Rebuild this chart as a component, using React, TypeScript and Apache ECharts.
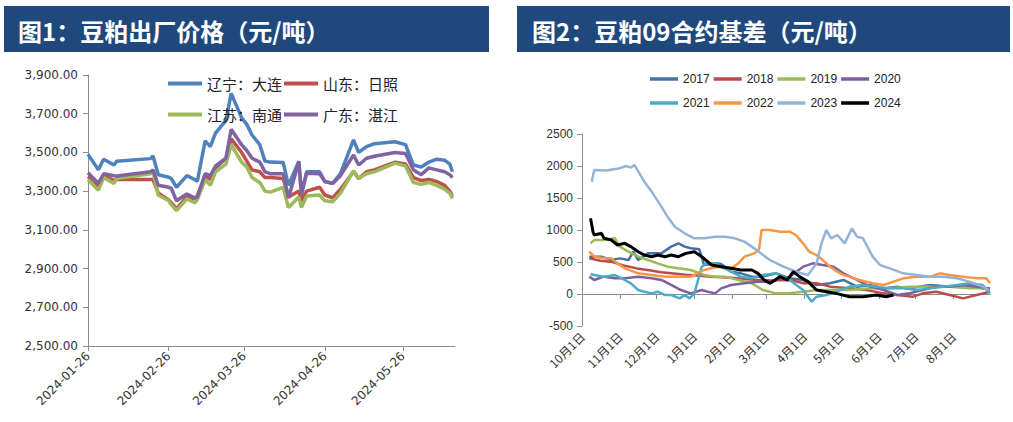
import React, { useEffect, useRef } from 'react';
import * as echarts from 'echarts';

// ---------- Figure 1: 豆粕出厂价格 ----------
const leftDates = [
  '2024-01-26','2024-01-30','2024-02-01','2024-02-05','2024-02-06','2024-02-19','2024-02-20','2024-02-22',
  '2024-02-26','2024-02-27','2024-02-29','2024-03-04','2024-03-07','2024-03-08','2024-03-11','2024-03-13',
  '2024-03-15','2024-03-19','2024-03-21','2024-03-25','2024-03-27','2024-03-29','2024-04-01','2024-04-03',
  '2024-04-05','2024-04-10','2024-04-12','2024-04-16','2024-04-17','2024-04-19','2024-04-24','2024-04-26',
  '2024-04-29','2024-05-02','2024-05-07','2024-05-09','2024-05-12','2024-05-15','2024-05-23','2024-05-27',
  '2024-05-30','2024-06-02','2024-06-05','2024-06-08','2024-06-11','2024-06-13','2024-06-14'
];
const dalian = [3490,3410,3465,3435,3455,3468,3482,3385,3372,3365,3320,3380,3360,3350,3560,3530,3600,3665,3805,3680,3645,3590,3540,3455,3450,3448,3330,3455,3275,3400,3400,3350,3340,3390,3565,3500,3530,3545,3555,3540,3435,3425,3450,3465,3460,3440,3400];
const rizhao = [3375,3325,3380,3355,3360,3360,3360,3290,3255,3240,3210,3270,3260,3275,3380,3360,3420,3470,3570,3500,3455,3410,3400,3370,3370,3365,3270,3300,3250,3300,3320,3280,3265,3310,3400,3365,3400,3410,3450,3440,3370,3355,3360,3350,3330,3300,3275];
const nantong = [3360,3305,3370,3340,3365,3390,3400,3280,3250,3230,3200,3260,3240,3255,3360,3330,3400,3440,3540,3450,3425,3370,3345,3300,3295,3320,3215,3270,3215,3275,3280,3250,3245,3290,3405,3365,3390,3400,3445,3430,3345,3335,3345,3330,3310,3290,3262];
const zhanjiang = [3395,3340,3390,3380,3378,3400,3410,3330,3320,3315,3250,3285,3265,3270,3390,3380,3430,3470,3620,3540,3510,3470,3450,3400,3390,3390,3265,3450,3295,3392,3390,3350,3340,3380,3487,3435,3470,3480,3500,3495,3410,3385,3420,3410,3400,3385,3370];
const leftNames = ['辽宁：大连', '山东：日照', '江苏：南通', '广东：湛江'];
const leftColors = ['#4F81BD', '#C0504D', '#9BBB59', '#8064A2'];

// ---------- Figure 2: 豆粕09合约基差 ([day index from 10月1日, value]) ----------
const y2017 = [[6,583],[16,583],[24,531],[31,557],[38,531],[42,661],[46,531],[54,635],[59,635],[65,635],[73,740],[79,792],[84,740],[89,714],[96,700],[100,453],[109,479],[114,470],[122,349],[130,323],[139,271],[148,271],[159,323],[170,245],[181,219],[192,141],[203,167],[214,219],[225,115],[236,141],[247,88],[258,115],[268,88],[285,141],[301,115],[317,141],[334,62]];
const y2018 = [[6,560],[15,520],[25,500],[35,440],[45,400],[55,370],[65,340],[75,320],[85,300],[95,290],[105,270],[115,260],[125,250],[135,230],[145,220],[155,210],[165,219],[175,200],[181,167],[192,167],[203,115],[219,88],[233,62],[247,10],[258,-16],[271,-42],[279,10],[290,36],[301,-16],[312,-68],[323,-16],[334,36]];
const y2019 = [[7,792],[10,844],[18,844],[27,870],[31,740],[38,661],[46,583],[54,531],[62,479],[70,427],[79,401],[89,375],[100,297],[109,271],[117,271],[128,219],[139,167],[148,62],[159,10],[170,10],[181,36],[192,62],[203,62],[219,62],[236,88],[252,88],[268,115],[285,115],[301,115],[317,88],[334,88]];
const y2020 = [[6,271],[10,219],[18,271],[27,245],[35,245],[46,271],[57,245],[65,219],[73,141],[81,62],[89,10],[98,62],[103,36],[109,10],[114,88],[122,141],[133,167],[144,193],[154,193],[170,271],[181,427],[189,479],[197,453],[206,427],[214,323],[225,219],[236,115],[247,62],[258,-16],[268,10],[279,62],[290,115],[301,115],[312,141],[323,115],[334,88]];
const y2021 = [[7,312],[10,297],[18,271],[27,297],[35,219],[40,167],[46,62],[51,36],[57,10],[62,36],[68,-16],[73,-16],[80,-68],[84,-16],[88,-68],[92,10],[98,427],[102,479],[109,480],[114,427],[122,349],[130,271],[139,245],[148,297],[159,323],[170,219],[181,62],[188,-120],[192,-42],[200,-16],[208,36],[219,115],[230,141],[241,115],[252,88],[263,88],[274,62],[285,88],[296,115],[307,141],[317,167],[328,141],[334,10]];
const y2022 = [[6,661],[10,583],[18,557],[24,557],[29,479],[35,401],[46,323],[57,297],[68,271],[79,271],[89,271],[100,375],[111,427],[122,401],[128,479],[133,583],[141,635],[145,700],[147,1000],[154,1000],[162,974],[170,974],[175,922],[181,791],[186,661],[192,609],[197,531],[203,427],[209,349],[214,297],[219,271],[227,219],[238,167],[247,141],[255,193],[263,245],[274,271],[285,271],[293,323],[301,297],[312,271],[323,245],[331,245],[334,167]];
const y2023 = [[8,1755],[10,1937],[20,1930],[30,1960],[36,2000],[40,1975],[43,2015],[51,1755],[57,1600],[65,1365],[70,1208],[76,1052],[84,948],[92,870],[100,870],[109,896],[117,896],[125,870],[133,818],[141,713],[150,583],[154,531],[165,427],[175,349],[185,297],[192,479],[196,791],[200,1000],[204,870],[209,922],[215,791],[221,1026],[225,896],[230,870],[238,583],[244,453],[252,401],[263,323],[274,297],[285,271],[296,271],[307,245],[317,193],[328,115],[333,62]];
const y2024 = [[7,1182],[9,974],[10,922],[16,948],[18,870],[24,844],[29,766],[35,792],[40,740],[46,661],[51,609],[57,583],[62,609],[68,583],[73,609],[79,583],[85,635],[92,661],[98,583],[106,453],[114,427],[122,401],[130,375],[139,375],[144,323],[149,219],[154,167],[162,271],[168,219],[173,349],[178,271],[185,193],[192,62],[200,36],[208,10],[219,-42],[230,-42],[241,-16],[249,-42],[255,-16]];
const rightNames = ['2017','2018','2019','2020','2021','2022','2023','2024'];
const rightData = [y2017, y2018, y2019, y2020, y2021, y2022, y2023, y2024];
const rightColors = ['#4472A8', '#BE4B48', '#9BBB59', '#7E60A0', '#4BACC6', '#F79646', '#95B3D7', '#000000'];

// axis categories (daily)
const leftCats: string[] = [];
for (let t = Date.UTC(2024, 0, 26); t <= Date.UTC(2024, 5, 15); t += 86400000) {
  leftCats.push(new Date(t).toISOString().slice(0, 10));
}
const rightCats: string[] = [];
for (let t = Date.UTC(2022, 9, 1); t <= Date.UTC(2023, 7, 31); t += 86400000) {
  const d = new Date(t);
  rightCats.push(`${d.getUTCMonth() + 1}月${d.getUTCDate()}日`);
}

const axisGray = '#8C8C8C';
const labelColor = '#333';

const option: any = {
  animation: false,
  backgroundColor: '#ffffff',
  graphic: [
    { type: 'rect', shape: { x: 4, y: 6, width: 485, height: 46 }, style: { fill: '#1F497D' } },
    { type: 'text', x: 18, y: 30, style: { text: '图1：豆粕出厂价格（元/吨）', fill: '#ffffff', fontSize: 24, fontWeight: 'bold', fontFamily: 'Noto Sans CJK SC', verticalAlign: 'middle' } },
    { type: 'rect', shape: { x: 517, y: 6, width: 493, height: 46 }, style: { fill: '#1F497D' } },
    { type: 'text', x: 532, y: 30, style: { text: '图2：豆粕09合约基差（元/吨）', fill: '#ffffff', fontSize: 24, fontWeight: 'bold', fontFamily: 'Noto Sans CJK SC', verticalAlign: 'middle' } },
  ],
  legend: [
    { data: leftNames.slice(0, 2), left: 163, top: 71, icon: 'rect', itemWidth: 34, itemHeight: 4, itemGap: 2, selectedMode: false,
      textStyle: { fontSize: 15, fontFamily: 'Noto Sans CJK SC', color: '#222' } },
    { data: leftNames.slice(2, 4), left: 163, top: 102, icon: 'rect', itemWidth: 34, itemHeight: 4, itemGap: 2, selectedMode: false,
      textStyle: { fontSize: 15, fontFamily: 'Noto Sans CJK SC', color: '#222' } },
    { data: rightNames.slice(0, 4), left: 645, top: 68, icon: 'rect', itemWidth: 28, itemHeight: 3.5, itemGap: 4, selectedMode: false,
      textStyle: { fontSize: 12, fontFamily: 'Liberation Sans', color: '#222' } },
    { data: rightNames.slice(4, 8), left: 645, top: 92, icon: 'rect', itemWidth: 28, itemHeight: 3.5, itemGap: 4, selectedMode: false,
      textStyle: { fontSize: 12, fontFamily: 'Liberation Sans', color: '#222' } },
  ],
  grid: [
    { left: 88, top: 75, width: 367, height: 271 },
    { left: 582, top: 134, width: 408, height: 192 },
  ],
  xAxis: [
    {
      gridIndex: 0, type: 'category', data: leftCats, boundaryGap: false,
      axisLine: { lineStyle: { color: axisGray, width: 1 } },
      axisTick: { interval: (i: number, v: string) => v.endsWith('-26'), length: 5, lineStyle: { color: axisGray } },
      axisLabel: { interval: (i: number, v: string) => v.endsWith('-26'), rotate: 45, fontSize: 12, fontFamily: 'DejaVu Sans', color: labelColor, margin: 8 },
      splitLine: { show: false },
    },
    {
      gridIndex: 1, type: 'category', data: rightCats, boundaryGap: false, position: 'bottom',
      axisLine: { onZero: true, lineStyle: { color: axisGray, width: 1 } },
      axisTick: { interval: (i: number, v: string) => v.endsWith('月1日'), length: 5, lineStyle: { color: axisGray } },
      axisLabel: { show: false },
      splitLine: { show: false },
    },
    {
      gridIndex: 1, type: 'category', data: rightCats, boundaryGap: false, position: 'bottom',
      axisLine: { show: false, onZero: false },
      axisTick: { show: false },
      axisLabel: { interval: (i: number, v: string) => v.endsWith('月1日'), rotate: 45, fontSize: 12, fontFamily: 'Noto Sans CJK SC', color: labelColor, margin: 8 },
      splitLine: { show: false },
    },
  ],
  yAxis: [
    {
      gridIndex: 0, type: 'value', min: 2500, max: 3900, interval: 200,
      axisLine: { show: true, lineStyle: { color: axisGray } },
      axisTick: { show: true, length: 5, lineStyle: { color: axisGray } },
      axisLabel: { fontSize: 12, fontFamily: 'DejaVu Sans', color: labelColor, margin: 10,
        formatter: (v: number) => v.toLocaleString('en-US', { minimumFractionDigits: 2, maximumFractionDigits: 2 }) },
      splitLine: { show: false },
    },
    {
      gridIndex: 1, type: 'value', min: -500, max: 2500, interval: 500,
      axisLine: { show: true, lineStyle: { color: axisGray } },
      axisTick: { show: true, length: 5, lineStyle: { color: axisGray } },
      axisLabel: { fontSize: 12, fontFamily: 'Liberation Sans', color: labelColor, margin: 9, formatter: (v: number) => String(v) },
      splitLine: { show: false },
    },
  ],
  series: [
    ...[dalian, rizhao, nantong, zhanjiang].map((vals, k) => ({
      name: leftNames[k], type: 'line', xAxisIndex: 0, yAxisIndex: 0, symbol: 'none',
      color: leftColors[k], lineStyle: { width: 3.5, color: leftColors[k] },
      data: leftDates.map((d, i) => [d, vals[i]]),
    })),
    ...rightData.map((pts, k) => ({
      name: rightNames[k], type: 'line', xAxisIndex: 1, yAxisIndex: 1, symbol: 'none',
      color: rightColors[k], lineStyle: { width: k === 7 ? 3 : 2.5, color: rightColors[k] },
      data: pts,
    })),
  ],
};

export default function App() {
  const ref = useRef<HTMLDivElement>(null);
  useEffect(() => {
    const chart = echarts.init(ref.current!, null, { renderer: 'svg' });
    chart.setOption(option);
    return () => chart.dispose();
  }, []);
  return (
    <div
      ref={ref}
      style={{ position: 'fixed', left: 0, top: 0, width: 1013, height: 422, background: '#fff' }}
    />
  );
}
